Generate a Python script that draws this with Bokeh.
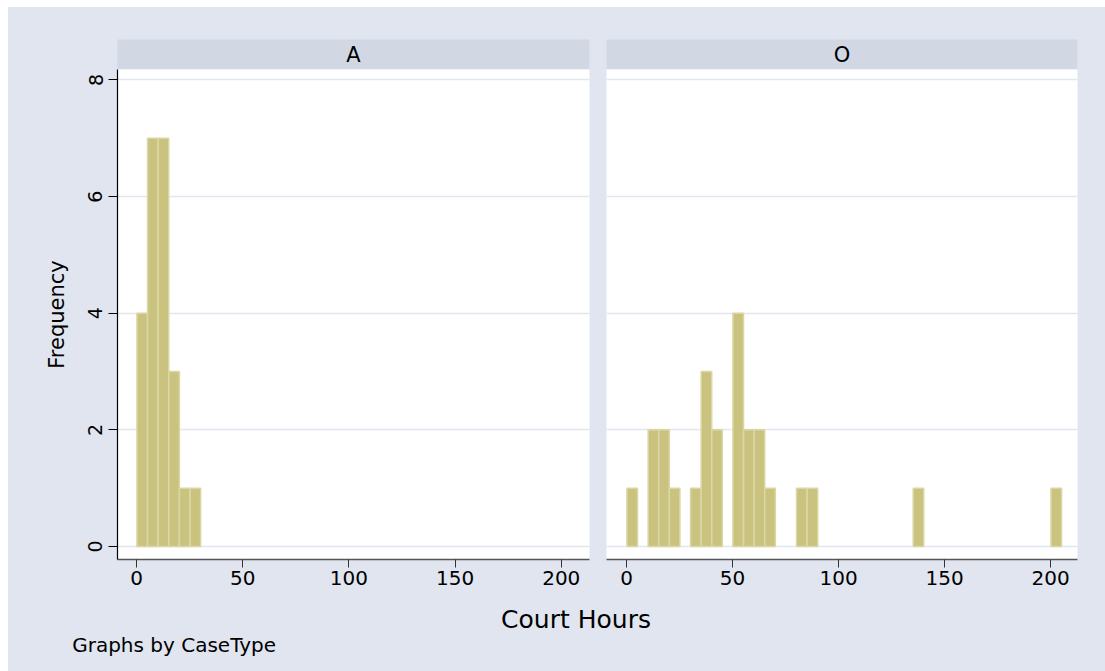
from bokeh.plotting import figure
from bokeh.models import Range1d, FixedTicker, Label, ColumnDataSource
from bokeh.layouts import column, row
from bokeh.embed import file_html
from bokeh.resources import INLINE

# ---------------- data ----------------
panel_names = ["A", "O"]
bin_width = 5.0
bins_A = [0.2, 5.2, 10.2, 15.2, 20.2, 25.2]
freq_A = [4, 7, 7, 3, 1, 1]
bins_O = [0.2, 10.2, 15.2, 20.2, 30.2, 35.2, 40.2, 50.2, 55.2, 60.2, 65.2, 80.2, 85.2, 135.2, 200.2]
freq_O = [1, 2, 2, 1, 1, 3, 2, 4, 2, 2, 1, 1, 1, 1, 1]
x_ticks = [0, 50, 100, 150, 200]
y_ticks = [0, 2, 4, 6, 8]
x_title = "Court Hours"
y_title = "Frequency"
note = "Graphs by CaseType"

# ---------------- style ----------------
BG = "#e0e5ef"
STRIP = "#d1d8e4"
GRID = "#e2e6f0"
BAR_FILL = "#c9c37f"
BAR_LINE = "#dbd7a4"
FONT = "DejaVu Sans"

FRAME_H = 490
panels = [
    dict(name=panel_names[0], bins=bins_A, freq=freq_A, left=109, right=9, fw=472,
         xr=(-8.95, 213.3), yaxis=True),
    dict(name=panel_names[1], bins=bins_O, freq=freq_O, left=8, right=28, fw=471,
         xr=(-9.43, 212.7), yaxis=False),
]

cols = []
for pn in panels:
    # strip (panel title)
    s = figure(frame_width=pn["fw"], frame_height=30, min_border_left=pn["left"],
               min_border_right=pn["right"], min_border_top=32, min_border_bottom=0,
               x_range=Range1d(0, 1), y_range=Range1d(0, 1),
               x_axis_location=None, y_axis_location=None,
               toolbar_location=None, output_backend="svg")
    s.grid.visible = False
    s.outline_line_color = None
    s.background_fill_color = STRIP
    s.border_fill_color = BG
    s.add_layout(Label(x=0.5, y=0.5, text=pn["name"], text_align="center",
                       text_baseline="middle", text_font=FONT, text_font_size="21px",
                       text_color="black"))

    p = figure(frame_width=pn["fw"], frame_height=FRAME_H, min_border_left=pn["left"],
               min_border_right=pn["right"], min_border_top=0, min_border_bottom=38,
               x_range=Range1d(*pn["xr"]), y_range=Range1d(-0.223, 8.18),
               toolbar_location=None, output_backend="svg")
    p.background_fill_color = "white"
    p.border_fill_color = BG
    p.outline_line_color = None

    src = ColumnDataSource(dict(left=pn["bins"],
                                right=[b + bin_width for b in pn["bins"]],
                                top=pn["freq"],
                                bottom=[0] * len(pn["freq"])))
    p.quad(left="left", right="right", top="top", bottom="bottom", source=src,
           fill_color=BAR_FILL, line_color=BAR_LINE, line_width=1.5)

    # x axis
    xa = p.xaxis[0]
    xa.ticker = FixedTicker(ticks=x_ticks)
    xa.axis_line_color = "#555555"
    xa.axis_line_width = 1.5
    xa.major_tick_line_color = "#333333"
    xa.major_tick_in = 0
    xa.major_tick_out = 8
    xa.minor_tick_line_color = None
    xa.major_label_text_font = FONT
    xa.major_label_text_font_size = "20px"
    xa.major_label_text_color = "black"
    xa.major_label_standoff = 3

    p.xgrid.visible = False
    p.ygrid.ticker = FixedTicker(ticks=y_ticks)
    p.ygrid.grid_line_color = GRID
    p.ygrid.grid_line_width = 1.5

    ya = p.yaxis[0]
    if pn["yaxis"]:
        ya.ticker = FixedTicker(ticks=y_ticks)
        ya.axis_line_color = "black"
        ya.axis_line_width = 1.2
        ya.major_tick_line_color = "black"
        ya.major_tick_in = 0
        ya.major_tick_out = 9
        ya.minor_tick_line_color = None
        ya.major_label_orientation = "vertical"
        ya.major_label_text_font = FONT
        ya.major_label_text_font_size = "19px"
        ya.major_label_text_color = "black"
        ya.major_label_standoff = 6
        ya.axis_label = y_title
        ya.axis_label_text_font = FONT
        ya.axis_label_text_font_size = "21px"
        ya.axis_label_text_font_style = "normal"
        ya.axis_label_text_color = "black"
        ya.axis_label_standoff = 17
    else:
        ya.visible = False

    cols.append(column(s, p, styles={"background-color": BG}))

# footer with shared x title and note
FOOT_H = 74
f = figure(width=1097, height=FOOT_H, min_border=0, min_border_left=0, min_border_right=0,
           min_border_top=0, min_border_bottom=0,
           x_range=Range1d(0, 1097), y_range=Range1d(FOOT_H, 0),
           x_axis_location=None, y_axis_location=None,
           toolbar_location=None, output_backend="svg")
f.grid.visible = False
f.outline_line_color = None
f.background_fill_color = BG
f.border_fill_color = BG
f.add_layout(Label(x=567.5, y=22.3, text=x_title, text_align="center",
                   text_baseline="alphabetic", text_font=FONT, text_font_size="25px",
                   text_color="black"))
f.add_layout(Label(x=63.7, y=47, text=note, text_align="left",
                   text_baseline="alphabetic", text_font=FONT, text_font_size="20px",
                   text_color="black"))

layout = column(row(*cols, styles={"background-color": BG}), f,
                styles={"background-color": BG, "margin-left": "8px", "margin-top": "7px"})
open("out.html", "w").write(file_html(layout, INLINE))
